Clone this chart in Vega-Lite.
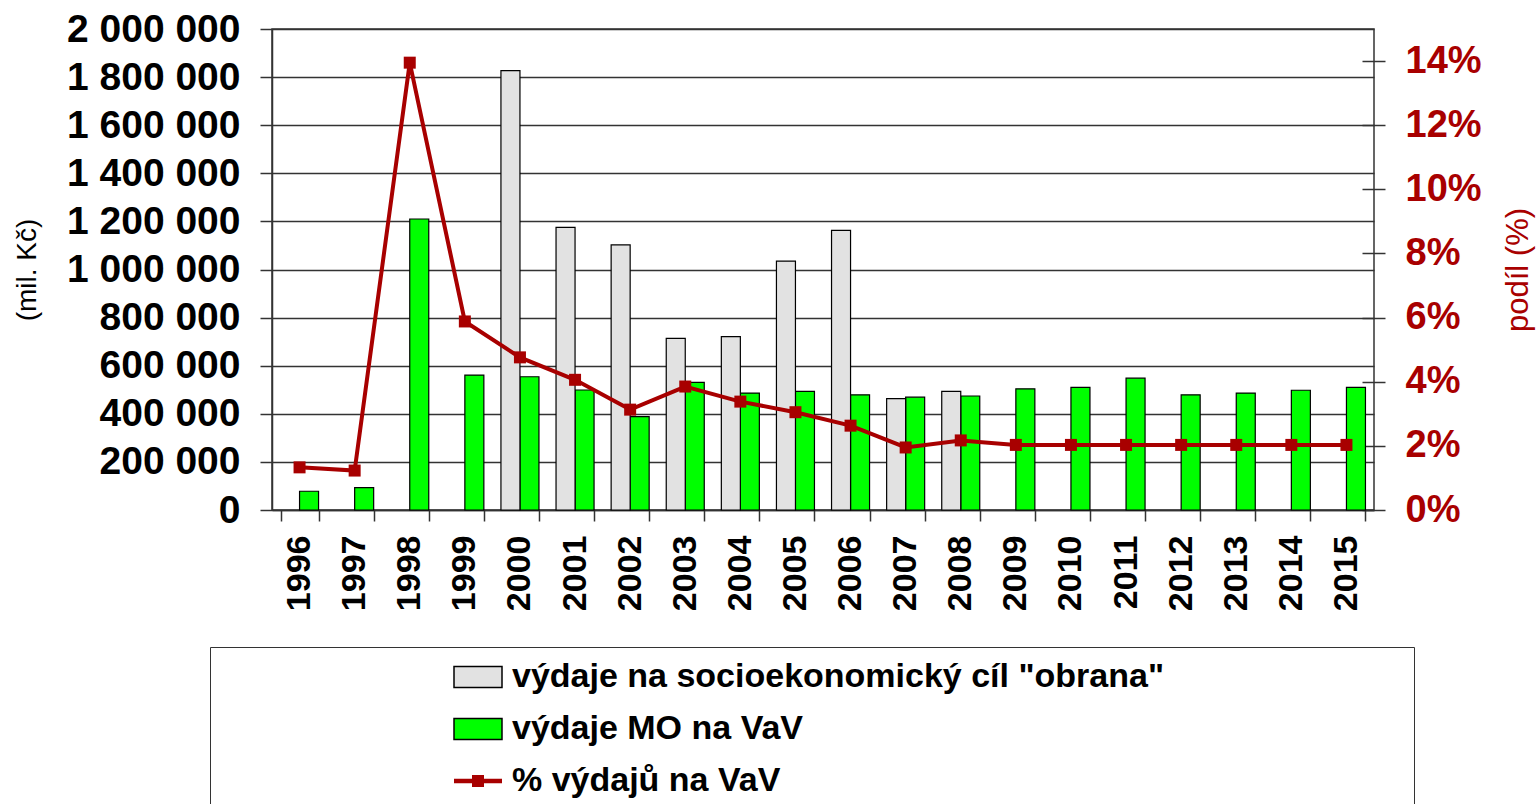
{
  "$schema": "https://vega.github.io/schema/vega-lite/v6.json",
  "width": 1102,
  "height": 481,
  "autosize": {"type": "none"},
  "padding": {"left": 272, "top": 29, "right": 164, "bottom": 294},
  "background": "white",
  "config": {
    "font": "Liberation Sans",
    "view": {"stroke": "#333333", "strokeWidth": 1.5},
    "axis": {
      "domainColor": "#333333",
      "domainWidth": 1.5,
      "tickColor": "#333333",
      "tickWidth": 1.5,
      "labelFont": "Liberation Sans",
      "labelFontWeight": "bold",
      "labelColor": "black",
      "titleFont": "Liberation Sans",
      "titleFontWeight": "normal",
      "grid": false
    }
  },
  "datasets": {
    "bars": [
      {"year": "1996", "series": "výdaje MO na VaV", "value": 78000},
      {"year": "1997", "series": "výdaje MO na VaV", "value": 93000},
      {"year": "1998", "series": "výdaje MO na VaV", "value": 1210000},
      {"year": "1999", "series": "výdaje MO na VaV", "value": 561000},
      {"year": "2000", "series": "výdaje MO na VaV", "value": 554000},
      {"year": "2001", "series": "výdaje MO na VaV", "value": 499000},
      {"year": "2002", "series": "výdaje MO na VaV", "value": 388000},
      {"year": "2003", "series": "výdaje MO na VaV", "value": 531000},
      {"year": "2004", "series": "výdaje MO na VaV", "value": 486000},
      {"year": "2005", "series": "výdaje MO na VaV", "value": 493000},
      {"year": "2006", "series": "výdaje MO na VaV", "value": 479000},
      {"year": "2007", "series": "výdaje MO na VaV", "value": 469000},
      {"year": "2008", "series": "výdaje MO na VaV", "value": 474000},
      {"year": "2009", "series": "výdaje MO na VaV", "value": 504000},
      {"year": "2010", "series": "výdaje MO na VaV", "value": 510000},
      {"year": "2011", "series": "výdaje MO na VaV", "value": 548000},
      {"year": "2012", "series": "výdaje MO na VaV", "value": 479000},
      {"year": "2013", "series": "výdaje MO na VaV", "value": 486000},
      {"year": "2014", "series": "výdaje MO na VaV", "value": 498000},
      {"year": "2015", "series": "výdaje MO na VaV", "value": 510000},
      {"year": "2000", "series": "výdaje na socioekonomický cíl \"obrana\"", "value": 1827000},
      {"year": "2001", "series": "výdaje na socioekonomický cíl \"obrana\"", "value": 1175000},
      {"year": "2002", "series": "výdaje na socioekonomický cíl \"obrana\"", "value": 1102000},
      {"year": "2003", "series": "výdaje na socioekonomický cíl \"obrana\"", "value": 714000},
      {"year": "2004", "series": "výdaje na socioekonomický cíl \"obrana\"", "value": 721000},
      {"year": "2005", "series": "výdaje na socioekonomický cíl \"obrana\"", "value": 1035000},
      {"year": "2006", "series": "výdaje na socioekonomický cíl \"obrana\"", "value": 1163000},
      {"year": "2007", "series": "výdaje na socioekonomický cíl \"obrana\"", "value": 463000},
      {"year": "2008", "series": "výdaje na socioekonomický cíl \"obrana\"", "value": 493000}
    ],
    "pct": [
      {"year": "1996", "pct": 1.33},
      {"year": "1997", "pct": 1.23},
      {"year": "1998", "pct": 13.95},
      {"year": "1999", "pct": 5.88},
      {"year": "2000", "pct": 4.76},
      {"year": "2001", "pct": 4.06},
      {"year": "2002", "pct": 3.13},
      {"year": "2003", "pct": 3.85},
      {"year": "2004", "pct": 3.38},
      {"year": "2005", "pct": 3.05},
      {"year": "2006", "pct": 2.63},
      {"year": "2007", "pct": 1.95},
      {"year": "2008", "pct": 2.17},
      {"year": "2009", "pct": 2.03},
      {"year": "2010", "pct": 2.03},
      {"year": "2011", "pct": 2.03},
      {"year": "2012", "pct": 2.03},
      {"year": "2013", "pct": 2.03},
      {"year": "2014", "pct": 2.03},
      {"year": "2015", "pct": 2.03}
    ]
  },
  "layer": [
    {
      "data": {"name": "bars"},
      "mark": {"type": "bar", "stroke": "black", "strokeWidth": 1.2},
      "encoding": {
        "x": {
          "field": "year",
          "type": "ordinal",
          "scale": {"paddingInner": 0.31, "paddingOuter": 0.155},
          "axis": {
            "title": null,
            "labelAngle": -90,
            "labelFontSize": 34,
            "tickBand": "extent",
            "tickSize": 11,
            "labelPadding": 14
          }
        },
        "xOffset": {
          "field": "series",
          "type": "nominal",
          "scale": {"domain": ["výdaje na socioekonomický cíl \"obrana\"", "výdaje MO na VaV"]}
        },
        "y": {
          "field": "value",
          "type": "quantitative",
          "scale": {"domain": [0, 2000000], "nice": false},
          "axis": {
            "title": "(mil. Kč)",
            "values": [0, 200000, 400000, 600000, 800000, 1000000, 1200000, 1400000, 1600000, 1800000, 2000000],
            "labelExpr": "replace(replace(format(datum.value, ','), ',', ' '), ',', ' ')",
            "labelFontSize": 39,
            "tickSize": 12,
            "labelPadding": 20,
            "titleFontSize": 28,
            "titlePadding": 31,
            "titleColor": "black",
            "grid": true,
            "gridColor": "#333333",
            "gridWidth": 1.5
          }
        },
        "color": {
          "field": "series",
          "type": "nominal",
          "scale": {
            "domain": ["výdaje na socioekonomický cíl \"obrana\"", "výdaje MO na VaV", "% výdajů na VaV"],
            "range": ["#E2E2E2", "#00FF00", "#A80000"]
          },
          "legend": {
            "orient": "none",
            "legendX": -62,
            "legendY": 618,
            "direction": "vertical",
            "title": "\u200b\u00a0\u00a0\u00a0\u00a0\u00a0\u00a0\u00a0\u00a0\u00a0\u00a0\u00a0\u00a0\u00a0\u00a0\u00a0\u00a0\u00a0\u00a0\u00a0\u00a0\u00a0\u00a0\u00a0\u00a0\u00a0\u00a0\u00a0\u00a0\u00a0\u00a0\u00a0\u00a0\u00a0\u00a0\u00a0\u00a0\u00a0\u00a0\u00a0\u00a0\u00a0\u200b",
            "titleOrient": "left",
            "titleColor": "transparent",
            "titleFont": "Liberation Sans",
            "titleFontSize": 20,
            "titleFontWeight": "normal",
            "titleLimit": 2000,
            "titlePadding": 0,
            "strokeColor": "#333333",
            "padding": 13,
            "fillColor": "white",
            "labelFont": "Liberation Sans",
            "labelFontSize": 34,
            "labelFontWeight": "bold",
            "labelColor": "black",
            "labelLimit": 2000,
            "labelOffset": 17,
            "labelExpr": "datum.label + '\u00a0\u00a0\u00a0\u00a0\u00a0\u00a0\u00a0\u00a0\u00a0\u00a0\u00a0\u00a0\u00a0\u00a0\u00a0\u00a0\u00a0\u00a0\u00a0\u00a0\u00a0\u00a0\u00a0\u00a0\u00a0\u200b'",
            "rowPadding": 18,
            "symbolOffset": 10,
            "symbolType": {"expr": "datum.value === '% výdajů na VaV' ? 'M-1,-0.09H1V0.09H-1Z M-0.25,-0.25H0.25V0.25H-0.25Z' : 'M-1,-0.44H1V0.44H-1Z'"},
            "symbolSize": 2304,
            "symbolStrokeColor": {"expr": "datum.value === '% výdajů na VaV' ? 'transparent' : 'black'"},
            "symbolStrokeWidth": {"expr": "datum.value === '% výdajů na VaV' ? 0 : 1.5"},
            "symbolOpacity": 1
          }
        }
      }
    },
    {
      "data": {"name": "pct"},
      "mark": {"type": "line", "strokeWidth": 4, "color": "#A80000", "point": {"shape": "square", "size": 144, "filled": true, "color": "#A80000"}},
      "encoding": {
        "x": {"field": "year", "type": "ordinal"},
        "y": {
          "field": "pct",
          "type": "quantitative",
          "scale": {"domain": [0, 15], "nice": false},
          "axis": {
            "orient": "right",
            "title": "podíl (%)",
            "values": [0, 2, 4, 6, 8, 10, 12, 14],
            "labelExpr": "datum.value + '%'",
            "labelColor": "#A80000",
            "titleColor": "#A80000",
            "labelFontSize": 38,
            "titleFontSize": 31,
            "offset": -12,
            "tickSize": 23,
            "domain": false,
            "labelPadding": 20,
            "titleAngle": -90,
            "titleBaseline": "top",
            "titlePadding": 22,
            "grid": false
          }
        }
      }
    }
  ],
  "resolve": {"scale": {"y": "independent"}}
}
